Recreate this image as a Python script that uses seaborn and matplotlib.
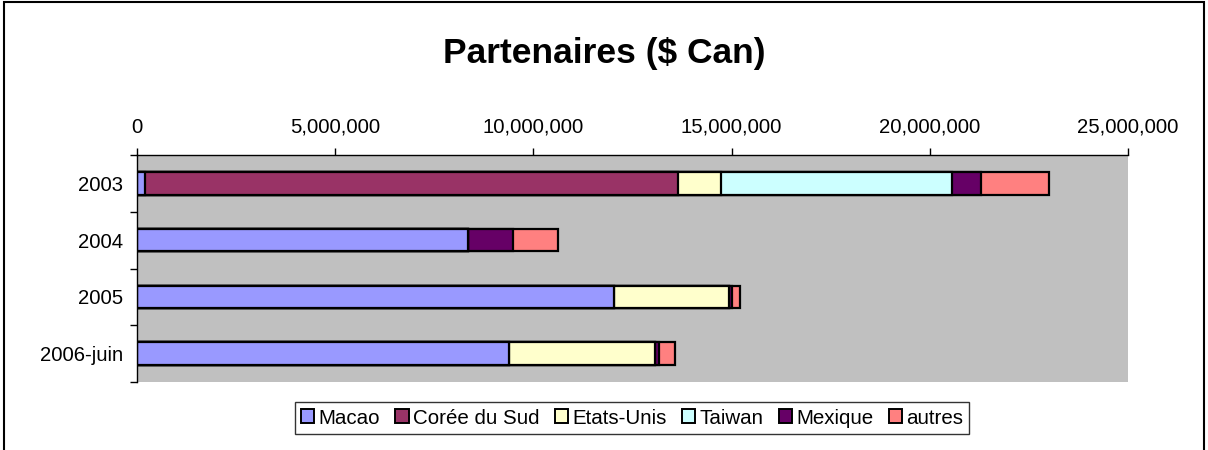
import numpy as np
import pandas as pd
import matplotlib
matplotlib.use("Agg")
import matplotlib.pyplot as plt
from matplotlib.patches import Patch, Rectangle
from matplotlib.ticker import FuncFormatter, FixedLocator
import seaborn as sns

# Data
years = ["2003", "2004", "2005", "2006-juin"]
series_names = ["Macao", "Corée du Sud", "Etats-Unis", "Taiwan", "Mexique", "autres"]
macao = [210000, 8360000, 12040000, 9390000]
coree = [13430000, 0, 0, 0]
etats_unis = [1100000, 0, 2890000, 3680000]
taiwan = [5830000, 0, 0, 0]
mexique = [710000, 1130000, 90000, 90000]
autres = [1720000, 1140000, 190000, 410000]
colors = ["#9999FF", "#993366", "#FFFFCC", "#CCFFFF", "#660066", "#FF8080"]
x_ticks = [0, 5000000, 10000000, 15000000, 20000000, 25000000]

sns.set_style("white")
plt.rcParams["font.family"] = ["Liberation Sans", "DejaVu Sans"]
plt.rcParams["text.color"] = "black"
plt.rcParams["xtick.color"] = "black"
plt.rcParams["ytick.color"] = "black"

values = np.array([macao, coree, etats_unis, taiwan, mexique, autres], dtype=float)
cum = np.cumsum(values, axis=0)

fig = plt.figure(figsize=(12.08, 4.5), dpi=100)
ax = fig.add_axes([137 / 1208, 1 - 382 / 450, (1128 - 137) / 1208, (382 - 155) / 450])
ax.set_facecolor("#C0C0C0")

# stacked bars: draw cumulative totals from the largest down
for i in range(len(series_names) - 1, -1, -1):
    df = pd.DataFrame({"year": years, "total": cum[i]})
    sns.barplot(data=df, x="total", y="year", orient="h", color=colors[i],
                saturation=1, edgecolor="black", linewidth=1.6, width=0.4, ax=ax)

ax.set_xlim(0, 25000000)
ax.set_ylim(3.5, -0.5)
ax.set_xlabel("")
ax.set_ylabel("")

ax.xaxis.tick_top()
ax.xaxis.set_major_locator(FixedLocator(x_ticks))
ax.xaxis.set_major_formatter(FuncFormatter(lambda v, p: f"{int(v):,}"))
ax.tick_params(axis="x", direction="out", length=5, width=1, color="black",
               labelsize=14.6, labelcolor="black", pad=8)

# category ticks between bars, labels at bar centres
ax.yaxis.set_major_locator(FixedLocator([-0.5, 0.5, 1.5, 2.5, 3.5]))
ax.yaxis.set_major_formatter(FuncFormatter(lambda v, p: ""))
ax.yaxis.set_minor_locator(FixedLocator(range(len(years))))
ax.set_yticklabels(years, minor=True)
ax.tick_params(axis="y", which="major", direction="out", length=5, width=1, color="black", left=True)
ax.tick_params(axis="y", which="minor", length=0, labelsize=14.6, labelcolor="black", pad=10)

for side in ["right", "bottom"]:
    ax.spines[side].set_visible(False)
for side in ["left", "top"]:
    ax.spines[side].set_color("black")
    ax.spines[side].set_linewidth(1)
ax.grid(False)

fig.suptitle("Partenaires ($ Can)", x=0.5, y=1 - 53 / 450, va="center",
             fontsize=25.5, fontweight="bold", color="black")

handles = [Patch(facecolor=c, edgecolor="black", linewidth=1.4) for c in colors]
leg = fig.legend(handles, series_names, loc="center", ncol=6,
                 bbox_to_anchor=(632 / 1208, 1 - 418 / 450), fontsize=14.8,
                 frameon=True, fancybox=False, handlelength=0.65, handleheight=0.65,
                 handletextpad=0.2, columnspacing=0.75, borderpad=0.3)
leg.get_frame().set_edgecolor("black")
leg.get_frame().set_linewidth(1)

fig.patches.append(Rectangle((0.003, -0.01), 0.994, 1.005, transform=fig.transFigure,
                             fill=False, edgecolor="black", linewidth=1.5))

fig.savefig("out.png", dpi=100)
